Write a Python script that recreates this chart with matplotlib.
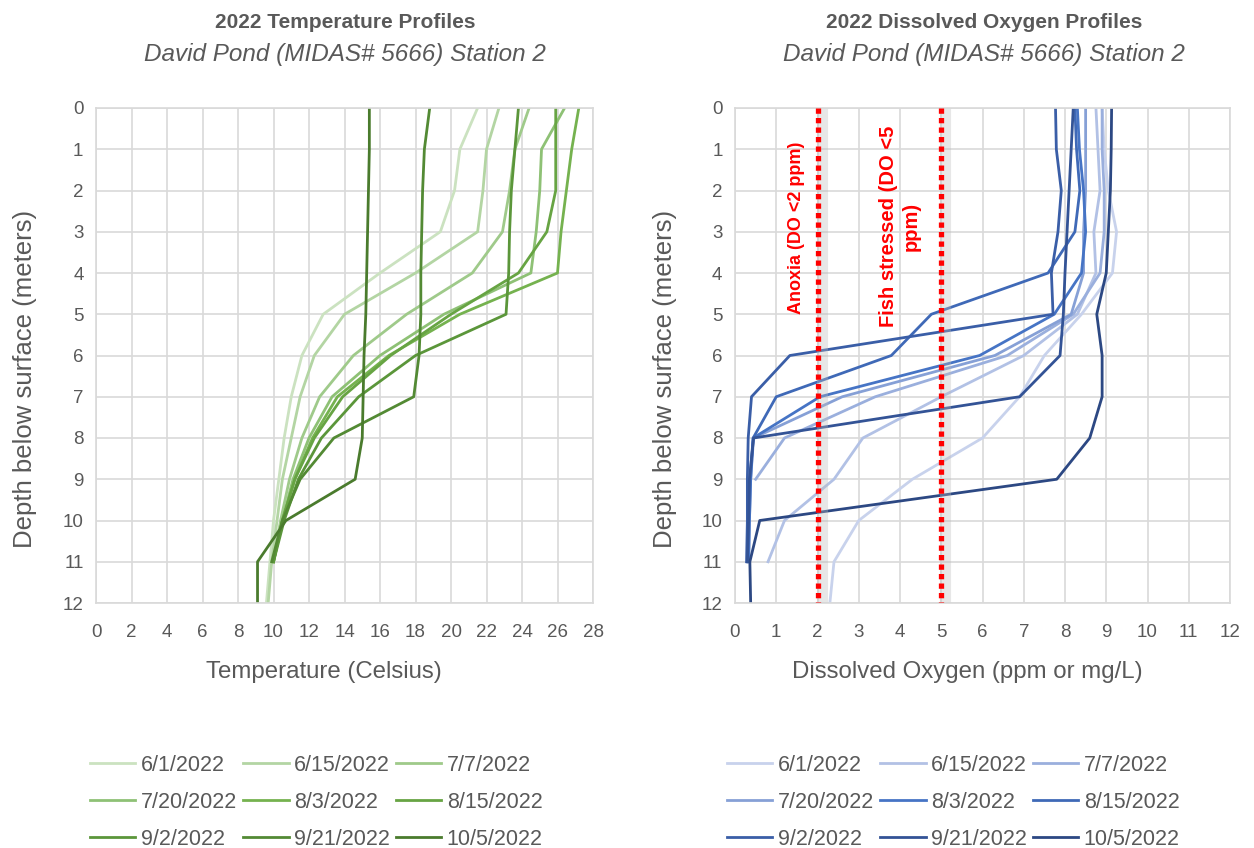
#=========================================================================
# plot.py
#=========================================================================
# 2022 temperature and dissolved oxygen profiles, David Pond station 2.

import matplotlib
matplotlib.use('Agg')
import matplotlib.pyplot as plt

#-------------------------------------------------------------------------
# Data
#-------------------------------------------------------------------------

dates = ['6/1/2022', '6/15/2022', '7/7/2022', '7/20/2022', '8/3/2022',
         '8/15/2022', '9/2/2022', '9/21/2022', '10/5/2022']

# temperature (Celsius), one value per meter starting at the surface
t_0601 = [21.5, 20.5, 20.2, 19.4, 16.0, 12.8, 11.6, 11.0, 10.6, 10.3, 10.0, 9.8, 9.6]
t_0615 = [22.7, 22.0, 21.8, 21.5, 18.0, 14.0, 12.3, 11.5, 11.0, 10.5, 10.2, 9.9, 9.7]
t_0707 = [24.4, 23.6, 23.3, 22.9, 21.2, 17.5, 14.5, 12.6, 11.6, 10.9, 10.4, 10.0]
t_0720 = [26.4, 25.1, 25.0, 24.8, 24.5, 19.6, 16.0, 13.3, 12.0, 11.1, 10.5, 10.0]
t_0803 = [27.2, 26.8, 26.5, 26.2, 26.0, 20.5, 16.5, 13.6, 12.2, 11.2, 10.5, 10.0]
t_0815 = [25.9, 25.9, 25.9, 25.4, 23.8, 20.0, 16.6, 13.9, 12.3, 11.2, 10.5, 10.0]
t_0902 = [23.8, 23.6, 23.4, 23.3, 23.25, 23.1, 18.0, 14.8, 12.7, 11.4, 10.6, 10.0]
t_0921 = [18.8, 18.5, 18.4, 18.35, 18.3, 18.3, 18.2, 17.9, 13.4, 11.5, 10.5, 9.9]
t_1005 = [15.4, 15.4, 15.35, 15.3, 15.25, 15.2, 15.1, 15.05, 15.0, 14.6, 10.7, 9.1, 9.1]

# dissolved oxygen (ppm), one value per meter starting at the surface
do_0601 = [8.9, 8.95, 9.05, 9.25, 9.15, 8.4, 7.5, 6.9, 6.0, 4.3, 3.0, 2.4, 2.3]
do_0615 = [8.75, 8.8, 8.85, 8.7, 8.75, 8.3, 7.0, 5.0, 3.1, 2.4, 1.2, 0.8]
do_0707 = [8.9, 8.9, 8.95, 8.95, 8.85, 8.2, 6.6, 3.4, 1.2, 0.5]
do_0720 = [8.5, 8.5, 8.5, 8.45, 8.45, 8.15, 6.3, 2.6, 0.45, 0.38, 0.35, 0.33]
do_0803 = [8.3, 8.35, 8.45, 8.5, 8.4, 7.74, 5.93, 2.06, 0.44, 0.38, 0.35, 0.33]
do_0815 = [8.24, 8.28, 8.36, 8.24, 7.59, 4.76, 3.79, 1.0, 0.44, 0.36, 0.33, 0.3]
do_0902 = [7.77, 7.79, 7.91, 7.83, 7.67, 7.71, 1.33, 0.4, 0.32, 0.3, 0.3, 0.28]
do_0921 = [8.2, 8.15, 8.1, 8.05, 8.0, 7.96, 7.88, 6.9, 0.45, 0.35, 0.33, 0.3]
do_1005 = [9.13, 9.12, 9.1, 9.05, 9.0, 8.77, 8.9, 8.9, 8.6, 7.8, 0.6, 0.36, 0.38]

temps = [t_0601, t_0615, t_0707, t_0720, t_0803, t_0815, t_0902, t_0921, t_1005]
oxygen = [do_0601, do_0615, do_0707, do_0720, do_0803, do_0815, do_0902, do_0921, do_1005]

thresholds = [2, 5]
threshold_labels = ['Anoxia (DO <2 ppm)', 'Fish stressed (DO <5\nppm)']

#-------------------------------------------------------------------------
# Configure matplotlib
#-------------------------------------------------------------------------

plt.rcParams['font.family'] = ['Liberation Sans', 'DejaVu Sans']
plt.rcParams['font.size']   = 12

greens = ['#cbe2c0', '#b3d5a3', '#9fca8a', '#8ec175', '#75b24f',
          '#67a443', '#5b963a', '#538a34', '#4a7b2d']
blues  = ['#c8d2ec', '#b2c1e5', '#9aafdd', '#86a0d6', '#4674c5',
          '#3f69b7', '#3a5ea7', '#335396', '#2c4883']

text_gray = '#595959'
grid_gray = '#d9d9d9'

fig = plt.figure(figsize=(12.54, 8.48), dpi=100)

W, H = 1254.0, 848.0
ax_t = fig.add_axes([96/W, 1 - 603/H, 497/W, 495/H])
ax_o = fig.add_axes([735/W, 1 - 603/H, 495/W, 495/H])

#-------------------------------------------------------------------------
# Shared styling
#-------------------------------------------------------------------------

def style_axes(ax, xmax, xstep, xlabel, xlab_x):
  ax.set_xlim(0, xmax)
  ax.set_ylim(12, 0)
  ax.set_xticks(range(0, xmax + 1, xstep))
  ax.set_yticks(range(0, 13))
  ax.grid(True, color=grid_gray, linewidth=1.2)
  ax.set_axisbelow(True)
  for s in ax.spines.values():
    s.set_color(grid_gray)
    s.set_linewidth(1.2)
  ax.tick_params(length=0, colors=text_gray, labelsize=13.5)
  ax.tick_params(axis='x', pad=15)
  ax.tick_params(axis='y', pad=9)
  ax.set_xlabel(xlabel, color=text_gray, fontsize=17.3)
  ax.set_ylabel('Depth below surface (meters)', color=text_gray,
                fontsize=18.5)
  # Excel places the axis titles a little off centre
  ax.xaxis.set_label_coords(xlab_x, -0.139)
  ax.xaxis.label.set_va('center')
  ax.yaxis.set_label_coords(-0.142, 0.4525)
  ax.yaxis.label.set_va('center')

def add_legend(ax, x0):
  h, l = ax.get_legend_handles_labels()
  order = [0, 3, 6, 1, 4, 7, 2, 5, 8]
  ax.legend([h[i] for i in order], [l[i] for i in order], ncol=3,
            loc='upper left', bbox_to_anchor=(x0/W, 1 - 755/H),
            bbox_transform=fig.transFigure, frameon=False,
            fontsize=15.5, labelcolor=text_gray, handlelength=2.1,
            handletextpad=0.25, columnspacing=0.3, labelspacing=0.74,
            borderpad=0, borderaxespad=0)

#-------------------------------------------------------------------------
# Temperature
#-------------------------------------------------------------------------

for vals, c, d in zip(temps, greens, dates):
  ax_t.plot(vals, range(len(vals)), color=c, linewidth=2.0, label=d)

style_axes(ax_t, 28, 2, 'Temperature (Celsius)', 0.459)
add_legend(ax_t, 90)

#-------------------------------------------------------------------------
# Dissolved oxygen
#-------------------------------------------------------------------------

for vals, c, d in zip(oxygen, blues, dates):
  ax_o.plot(vals, range(len(vals)), color=c, linewidth=2.0, label=d)

for xv in thresholds:
  # soft grey shadow to the right of each threshold line
  ax_o.plot([xv + 0.1, xv + 0.1], [0, 12], color='#bbbbbb', alpha=0.35,
            linewidth=8, solid_capstyle='butt', zorder=2.5)
  ax_o.plot([xv, xv], [0, 12], color='#ff0000', linestyle=(0, (1, 0.8)),
            linewidth=3.8, zorder=3)

ax_o.text(1.5, 2.9, threshold_labels[0], rotation=90, color='#ff0000',
          fontsize=13, fontweight='bold', ha='center', va='center')
ax_o.text(4.0, 2.87, threshold_labels[1], rotation=90, color='#ff0000',
          fontsize=14.5, fontweight='bold', ha='center', va='center',
          multialignment='center')

style_axes(ax_o, 12, 1, 'Dissolved Oxygen (ppm or mg/L)', 0.469)
add_legend(ax_o, 727)

#-------------------------------------------------------------------------
# Titles
#-------------------------------------------------------------------------

for cx, name in [(345, '2022 Temperature Profiles'),
                 (984, '2022 Dissolved Oxygen Profiles')]:
  fig.text(cx/W, 1 - 22/H, name, ha='center', va='center',
           fontsize=15, fontweight='bold', color=text_gray)
  fig.text(cx/W, 1 - 55/H, 'David Pond (MIDAS# 5666) Station 2',
           ha='center', va='center', fontsize=17.5, fontstyle='italic',
           color=text_gray)

fig.savefig('out.png', dpi=100)
